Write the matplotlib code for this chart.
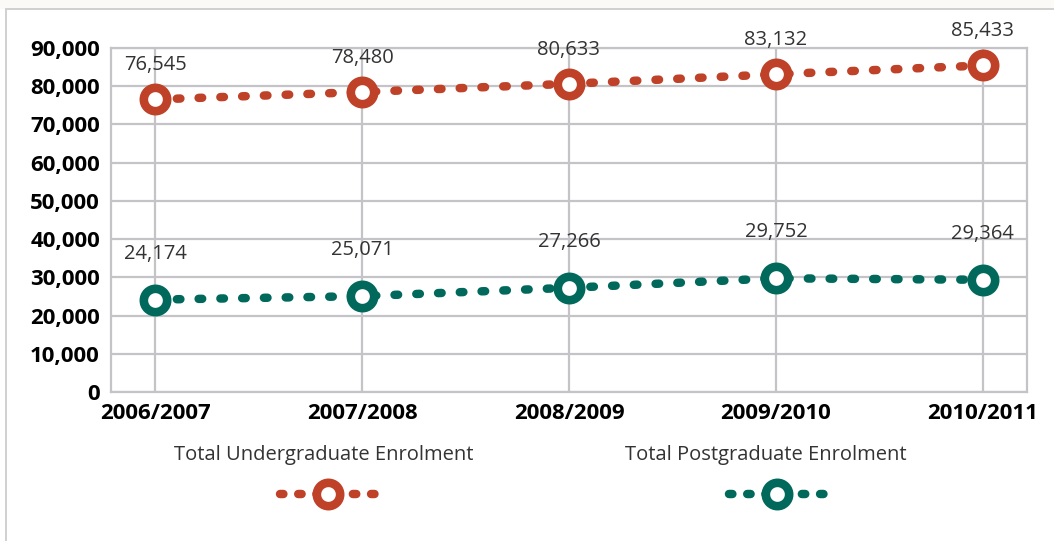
import matplotlib
matplotlib.use("Agg")
import matplotlib.pyplot as plt
from matplotlib.lines import Line2D
from matplotlib.patches import Rectangle
from matplotlib.ticker import FuncFormatter, MultipleLocator

plt.rcParams['font.family'] = ['Open Sans', 'DejaVu Sans']

years = ["2006/2007", "2007/2008", "2008/2009", "2009/2010", "2010/2011"]
undergrad = [76545, 78480, 80633, 83132, 85433]
postgrad = [24174, 25071, 27266, 29752, 29364]
series_names = ["Total Undergraduate Enrolment", "Total Postgraduate Enrolment"]

RED = "#BE4128"
TEAL = "#00695C"
GRID = "#C4C4C8"
TEXT = "#333333"

W, H = 1054, 541
fig = plt.figure(figsize=(W / 100, H / 100), dpi=100, facecolor="white")

# outer panel border and faint top strip
fig.patches.append(Rectangle((0, 1 - 9 / H), 1, 9 / H, transform=fig.transFigure,
                             facecolor="#FBFAF6", edgecolor="none", zorder=0))
fig.patches.append(Rectangle((6 / W, -0.05), 1.2, 1 - 9 / H + 0.05, transform=fig.transFigure,
                             facecolor="none", edgecolor="#D0D0D0", linewidth=1.4, zorder=1))

ax = fig.add_axes([111 / W, 1 - 392 / H, (1027 - 111) / W, (392 - 48) / H])
ax.set_facecolor("white")

x = list(range(len(years)))

MS, MEW, LW = 16.8, 6.2, 6.1
line_kw = dict(linewidth=LW, dash_capstyle="round", solid_capstyle="round",
               marker="o", markersize=MS, markeredgewidth=MEW,
               markerfacecolor="white", zorder=3)

for vals, color, off in [(undergrad, RED, 24.5), (postgrad, TEAL, 33)]:
    ln, = ax.plot(x, vals, color=color, markeredgecolor=color, **line_kw)
    ln.set_dashes([0.42, 2.15])
    for xi, v in zip(x, vals):
        ax.annotate(f"{v:,}", (xi, v), xytext=(0, off), textcoords="offset points",
                    ha="center", va="center", fontsize=14.5, color=TEXT, zorder=4)

ax.set_xlim(-0.213, 4.213)
ax.set_ylim(0, 90000)
ax.set_xticks(x)
ax.set_xticklabels(years)
ax.yaxis.set_major_locator(MultipleLocator(10000))
ax.yaxis.set_major_formatter(FuncFormatter(lambda v, p: f"{int(v):,}"))
ax.grid(True, color=GRID, linewidth=1.6)
ax.set_axisbelow(True)
for s in ax.spines.values():
    s.set_color(GRID)
    s.set_linewidth(1.6)
ax.tick_params(axis="both", length=0, labelsize=16, colors="black")
ax.tick_params(axis="y", pad=8)
ax.tick_params(axis="x", pad=8)
for lab in ax.get_xticklabels() + ax.get_yticklabels():
    lab.set_fontweight("bold")

# legend: name above, line sample below
leg_ax = fig.add_axes([0, 0, 1, 1], facecolor="none")
leg_ax.set_xlim(0, W)
leg_ax.set_ylim(H, 0)
leg_ax.axis("off")
for name, color, tx, mx in [(series_names[0], RED, 324, 328), (series_names[1], TEAL, 766, 777)]:
    leg_ax.text(tx, 455, name, ha="center", va="center", fontsize=14.5, color=TEXT)
    sample = Line2D([mx - 48, mx + 48], [494, 494], color=color, linewidth=LW,
                    dash_capstyle="round")
    sample.set_dashes([0.4, 1.75])
    leg_ax.add_line(sample)
    leg_ax.plot([mx], [494], marker="o", markersize=MS, markeredgewidth=MEW,
                markerfacecolor="white", markeredgecolor=color, linestyle="none")

fig.savefig("out.png", dpi=100, facecolor="white")
